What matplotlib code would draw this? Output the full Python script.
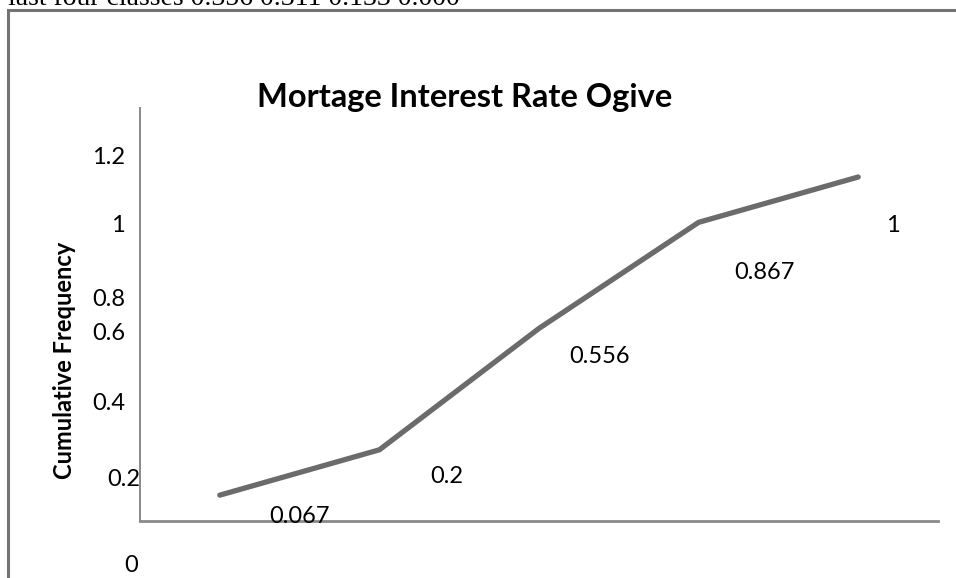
import matplotlib
matplotlib.use("Agg")
import matplotlib.pyplot as plt
from matplotlib.patches import Rectangle

# Ogive data: cumulative relative frequency per class
classes = [1, 2, 3, 4, 5]
cum_freq = [0.067, 0.2, 0.556, 0.867, 1.0]
point_labels = ["0.067", "0.2", "0.556", "0.867", "1"]
ytick_labels = ["1.2", "1", "0.8", "0.6", "0.4", "0.2", "0"]
header_text = "last four classes 0.356 0.311 0.133 0.000"

W, H = 956, 578
fig = plt.figure(figsize=(W / 100, H / 100), dpi=100)
fig.patch.set_facecolor("white")

def px(x, y):
    """Convert pixel coordinates (origin top-left) to figure fractions."""
    return x / W, 1 - y / H

sans = ["Lato", "DejaVu Sans"]

# Header line of the surrounding page, cut off at the top edge
fig.text(*px(8, 5), header_text, family="Liberation Serif", fontsize=20,
         ha="left", va="baseline", color="black")

# Outer frame of the chart object
fig.patches.append(Rectangle(px(8, 640), 1.2, (640 - 10) / H,
                             transform=fig.transFigure, fill=False,
                             edgecolor="#737373", linewidth=2.2, clip_on=False))

# Plot area
left, right, top, bottom = 140, 938, 108, 521
ax = fig.add_axes([left / W, 1 - bottom / H, (right - left) / W, (bottom - top) / H])
ax.set_facecolor("none")
idx = list(range(len(classes)))
ax.plot(idx, cum_freq, color="#6b6b6b", linewidth=3.8, solid_capstyle="round",
        solid_joinstyle="miter")
ax.set_xlim(-0.5, len(classes) - 0.5)
ax.set_ylim(-3 / 341, (518 - 108) / 341)
ax.set_xticks([])
ax.set_yticks([])
for s in ("top", "right"):
    ax.spines[s].set_visible(False)
ax.spines["left"].set_color("#8a8a8a")
ax.spines["left"].set_linewidth(1.4)
ax.spines["bottom"].set_color("#8a8a8a")
ax.spines["bottom"].set_linewidth(2.0)

# Value labels next to each point
label_offsets = [(80, -21), (67, -27), (61, -28), (66, -50), (35, -49)]
for i, (v, t, off) in enumerate(zip(cum_freq, point_labels, label_offsets)):
    ax.annotate(t, xy=(i, v), xytext=off, textcoords="offset pixels",
                ha="center", va="center", fontsize=17, family=sans,
                color="black", annotation_clip=False)

# Axis value labels
ytick_pos = [(125, 157), (125, 226), (125, 300), (125, 333), (125, 403),
             (140, 479), (138, 565)]
for t, (x, y) in zip(ytick_labels, ytick_pos):
    fig.text(*px(x, y), t, ha="right", va="center", fontsize=17,
             family=sans, color="black")

fig.text(*px(65, 360), "Cumulative Frequency", rotation=90, ha="center",
         va="center", fontsize=17, fontweight="bold", family=sans, color="black")

fig.text(*px(465, 97), "Mortage Interest Rate Ogive", ha="center", va="center",
         fontsize=23.5, fontweight="bold", family=sans, color="black")

fig.savefig("out.png", dpi=100, facecolor="white")
